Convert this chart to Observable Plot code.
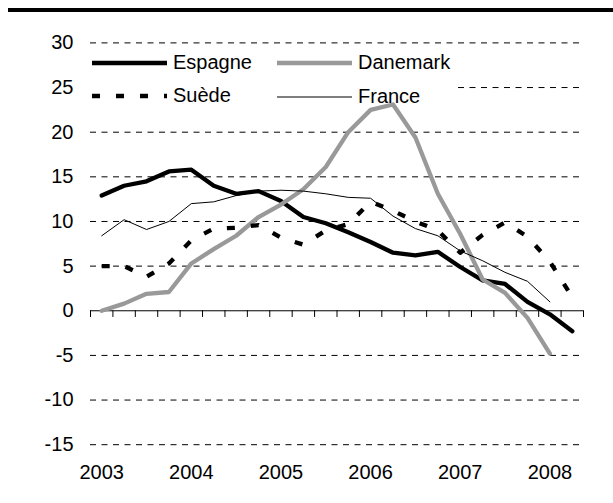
<!DOCTYPE html>
<html><head><meta charset="utf-8">
<script src="https://cdn.jsdelivr.net/npm/d3@7"></script>
<script src="https://cdn.jsdelivr.net/npm/@observablehq/plot@0.6"></script>
<style>
html,body{margin:0;padding:0;background:#fff;}
#wrap{position:relative;width:613px;height:503px;font-family:"Liberation Sans",Arial,sans-serif;}
#topline{position:absolute;left:8px;top:8px;width:605px;height:4px;background:#000;}
</style></head><body>
<div id="wrap"><div id="chart"></div><div id="topline"></div></div>
<script>
// Quarterly data, 2003T1 .. 2008T2
const quarters = ["2003T1","2003T2","2003T3","2003T4","2004T1","2004T2","2004T3","2004T4","2005T1","2005T2","2005T3","2005T4","2006T1","2006T2","2006T3","2006T4","2007T1","2007T2","2007T3","2007T4","2008T1","2008T2"];
const years = [2003, 2004, 2005, 2006, 2007, 2008];
const yTicks = [-15, -10, -5, 0, 5, 10, 15, 20, 25, 30];
const espagne = [12.9, 14.0, 14.5, 15.6, 15.8, 14.0, 13.1, 13.4, 12.3, 10.5, 9.8, 8.8, 7.7, 6.5, 6.2, 6.6, 4.9, 3.4, 3.0, 1.0, -0.4, -2.3];
const danemark = [0.0, 0.8, 1.9, 2.1, 5.3, 6.9, 8.4, 10.5, 11.9, 13.6, 16.1, 20.0, 22.5, 23.1, 19.4, 13.1, 8.6, 3.5, 2.0, -0.8, -4.8];
const suede = [5.0, 5.0, 3.8, 5.3, 7.9, 9.2, 9.3, 9.6, 8.2, 7.4, 9.0, 9.7, 12.2, 11.2, 10.0, 9.0, 6.5, 8.5, 9.9, 8.3, 5.5, 1.5];
const france = [8.4, 10.2, 9.1, 10.0, 12.0, 12.2, 12.9, 13.4, 13.5, 13.4, 13.1, 12.7, 12.6, 10.6, 9.2, 8.4, 6.7, 5.6, 4.3, 3.3, 1.0];

const seriesNames = ["Espagne", "Danemark", "Suède", "France"];
const seriesValues = [espagne, danemark, suede, france];
const styles = {
  "Espagne": {stroke: "#000000", strokeWidth: 4.3, dash: null},
  "Danemark": {stroke: "#999999", strokeWidth: 4.3, dash: null},
  "Suède": {stroke: "#000000", strokeWidth: 4.3, dash: "8,16"},
  "France": {stroke: "#000000", strokeWidth: 1, dash: null}
};
const rows = seriesNames.flatMap((name, k) =>
  seriesValues[k].map((v, i) => ({serie: name, quarter: quarters[i], q: i + 0.5, v})));
const bounds = d3.range(quarters.length + 1);
const yearPos = years.map(y => quarters.indexOf(y + "T1") + 0.5);
const gridVals = yTicks.filter(d => d !== 0);

function legend() {
  const g = d3.create("svg:g");
  g.append("rect").attr("x", 86).attr("y", 48).attr("width", 371).attr("height", 62).attr("fill", "white");
  const layout = [
    {name: "Espagne", lx: 92, tx: 173, y: 63},
    {name: "Danemark", lx: 277, tx: 358, y: 63},
    {name: "Suède", lx: 92, tx: 173, y: 96},
    {name: "France", lx: 277, tx: 358, y: 97}
  ];
  for (const it of layout) {
    const s = styles[it.name];
    g.append("line").attr("x1", it.lx).attr("x2", it.lx + 75).attr("y1", it.y).attr("y2", it.y)
      .attr("stroke", s.stroke).attr("stroke-width", s.strokeWidth)
      .attr("stroke-dasharray", s.dash).attr("stroke-linecap", "butt");
    g.append("text").attr("x", it.tx).attr("y", it.y - 1).attr("dy", "0.35em")
      .attr("text-anchor", "start")
      .attr("font-size", 20).attr("fill", "black").text(it.name);
  }
  return g.node();
}

const lineMarks = seriesNames.map(name => {
  const s = styles[name];
  return Plot.line(rows.filter(r => r.serie === name), {
    x: "q", y: "v", stroke: s.stroke, strokeWidth: s.strokeWidth,
    strokeDasharray: s.dash || undefined, strokeLinecap: s.dash ? "butt" : "round",
    strokeLinejoin: "round", curve: "linear"
  });
});

const chart = Plot.plot({
  width: 613, height: 503,
  marginLeft: 90, marginRight: 30, marginTop: 42.4, marginBottom: 58.8,
  x: {domain: [0, quarters.length]},
  y: {domain: [-15, 30]},
  style: {fontFamily: "'Liberation Sans', Arial, sans-serif", fontSize: "20px", color: "black", background: "white"},
  marks: [
    Plot.ruleY(gridVals, {stroke: "black", strokeWidth: 1, strokeDasharray: "6,5.5"}),
    Plot.ruleY([0], {stroke: "black", strokeWidth: 1}),
    Plot.ruleX(bounds, {x: d => d, y1: 0, y2: -0.75, stroke: "black", strokeWidth: 1}),
    Plot.axisY({ticks: yTicks, tickSize: 0, tickPadding: 17, fontSize: 20, tickFormat: d => String(d), label: null}),
    Plot.axisX({ticks: yearPos, tickSize: 0, tickPadding: 20, fontSize: 20,
      tickFormat: d => String(years[yearPos.indexOf(d)]), label: null}),
    legend,
    ...lineMarks
  ]
});
document.getElementById("chart").appendChild(chart);
</script>
</body></html>
